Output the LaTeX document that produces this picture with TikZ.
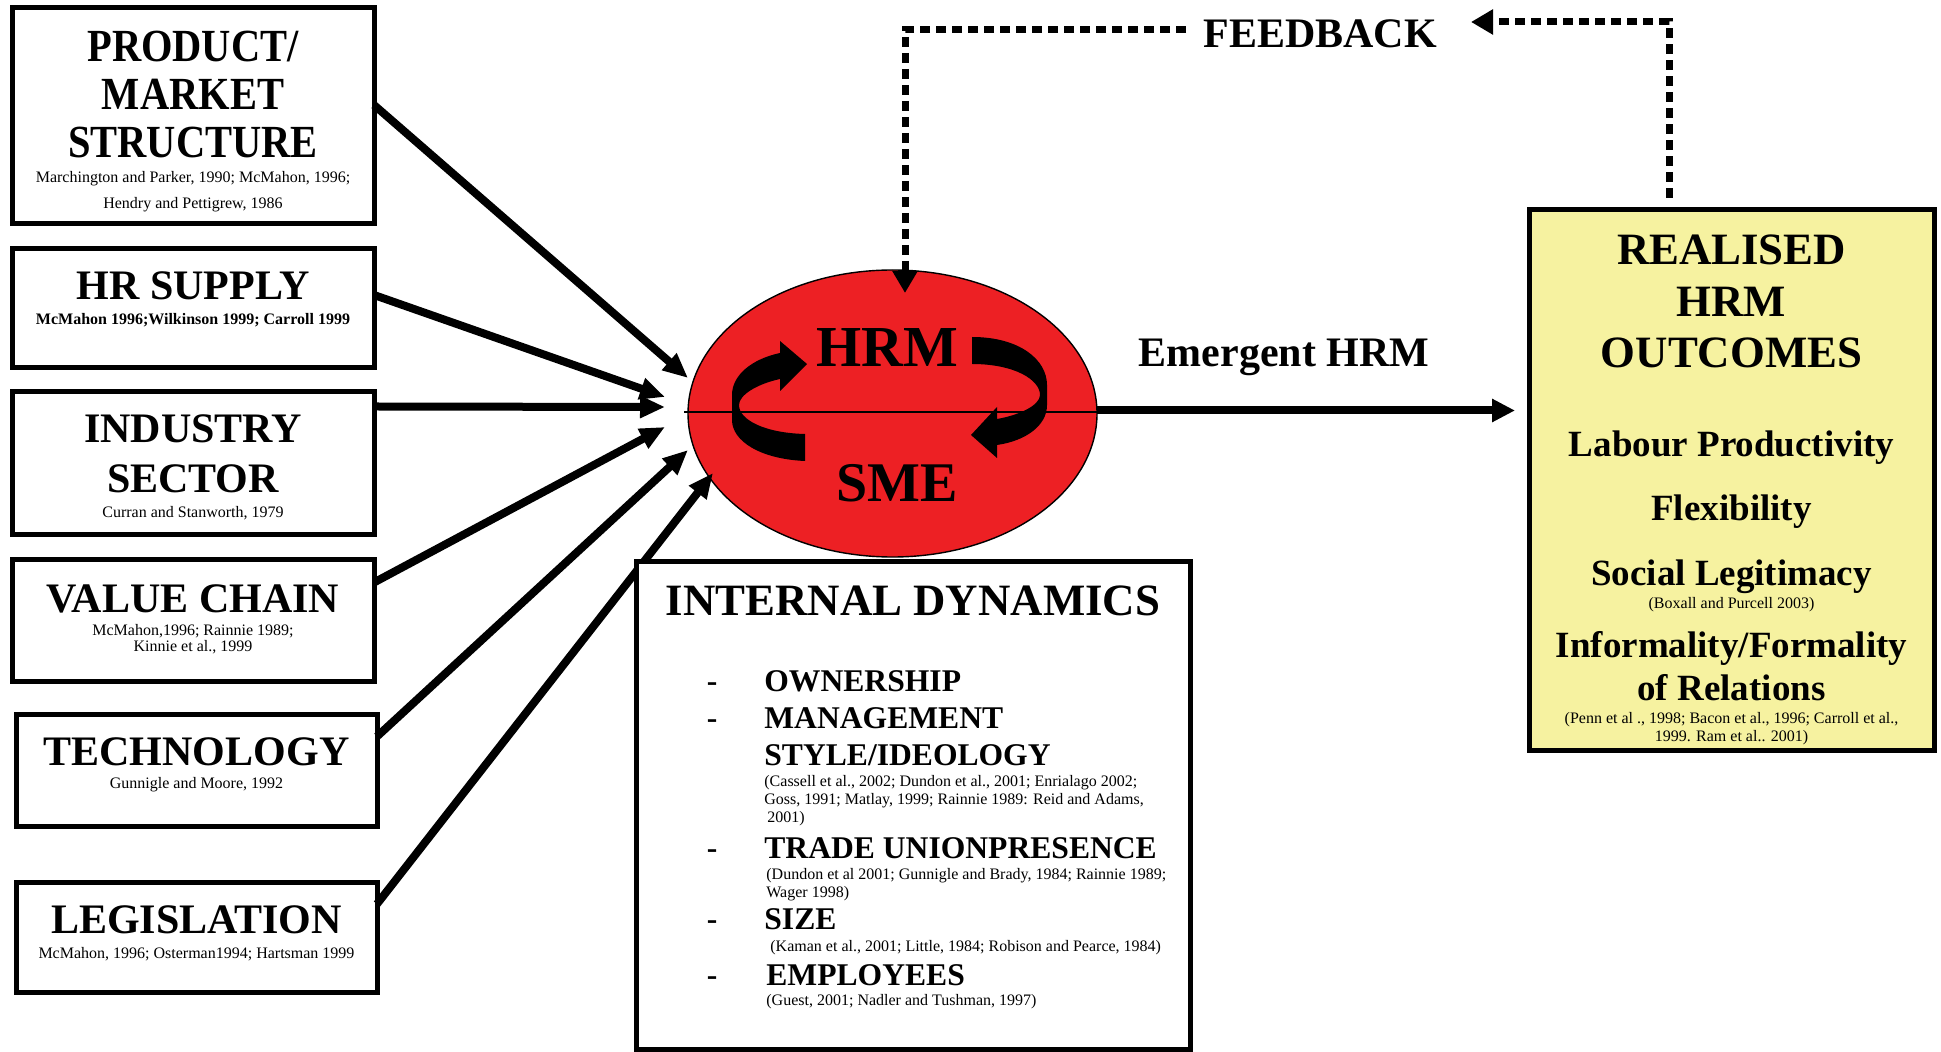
\documentclass[tikz,border=0pt]{standalone}
\usepackage{fontspec}
\setmainfont{Liberation Serif}
\newfontfamily\condserif[FakeStretch=0.88]{Liberation Serif}
\usetikzlibrary{arrows.meta,shapes.geometric,calc}
\definecolor{hrmred}{RGB}{237,32,36}
\definecolor{outyellow}{RGB}{246,242,160}
\begin{document}
\begin{tikzpicture}[x=0.5pt,y=-0.5pt,
  box/.style={draw, line width=2.5pt, rectangle, inner sep=0pt, outer sep=0pt},
  ttl/.style={inner sep=0pt, anchor=base, font=\fontsize{21pt}{24pt}\selectfont\bfseries},
  ttlp/.style={inner sep=0pt, anchor=base, font=\condserif\fontsize{23pt}{26pt}\selectfont\bfseries},
  cit/.style={inner sep=0pt, anchor=base, font=\fontsize{8pt}{10pt}\selectfont},
  citl/.style={inner sep=0pt, anchor=base west, font=\fontsize{8pt}{10pt}\selectfont},
  citb/.style={inner sep=0pt, anchor=base, font=\fontsize{8pt}{9pt}\selectfont\bfseries},
  item/.style={inner sep=0pt, anchor=base west, font=\fontsize{15.8pt}{18pt}\selectfont\bfseries},
  dashmark/.style={inner sep=0pt, anchor=base, font=\fontsize{15.8pt}{18pt}\selectfont\bfseries},
  big/.style={inner sep=0pt, anchor=base, font=\fontsize{22.4pt}{26pt}\selectfont\bfseries},
  outc/.style={inner sep=0pt, anchor=base, font=\fontsize{18.5pt}{22pt}\selectfont\bfseries},
  inarrow/.style={line width=4pt, -{Triangle[length=12.5pt,width=10.5pt]}},
  fbline/.style={line width=3.5pt, dash pattern=on 5pt off 3pt, -{Triangle[length=11pt,width=12pt]}}
]
\fill[white] (0,0) rectangle (1941,1052);
\useasboundingbox (0,0) rectangle (1941,1052);

% ---------- left boxes ----------
\node[box, minimum width=181pt, minimum height=108pt] (b1) at (193,116) {};
\node[ttlp] (b1a) at (193,62) {PRODUCT/};
\node[ttlp] (b1b) at (193,110) {MARKET};
\node[ttlp] (b1c) at (193,158) {STRUCTURE};
\node[cit] (b1d) at (193,183) {Marchington and Parker, 1990; McMahon, 1996;};
\node[cit] (b1e) at (193,209) {Hendry and Pettigrew, 1986};

\node[box, minimum width=181pt, minimum height=59.5pt] (b2) at (193,308.5) {};
\node[ttl] (b2a) at (193,300) {HR SUPPLY};
\node[citb] (b2b) at (193,325) {McMahon 1996;Wilkinson 1999; Carroll 1999};

\node[box, minimum width=181pt, minimum height=71.5pt] (b3) at (193,463.5) {};
\node[ttl] (b3a) at (193,443) {INDUSTRY};
\node[ttl] (b3b) at (193,493) {SECTOR};
\node[cit] (b3c) at (193,518) {Curran and Stanworth, 1979};

\node[box, minimum width=181pt, minimum height=60.5pt] (b4) at (193,620.5) {};
\node[ttl] (b4a) at (193,612) {VALUE CHAIN};
\node[cit] (b4b) at (193,635) {McMahon,1996; Rainnie 1989;};
\node[cit] (b4c) at (193,651) {Kinnie et al., 1999};

\node[box, minimum width=180.5pt, minimum height=56pt] (b5) at (196.5,770) {};
\node[ttl] (b5a) at (196.5,765) {TECHNOLOGY};
\node[cit] (b5b) at (196.5,788) {Gunnigle and Moore, 1992};

\node[box, minimum width=180.5pt, minimum height=55pt] (b6) at (196.5,937) {};
\node[ttl] (b6a) at (196.5,933) {LEGISLATION};
\node[cit] (b6b) at (196.5,958) {McMahon, 1996; Osterman1994; Hartsman 1999};

% ---------- central ellipse ----------
\node[ellipse, draw, line width=0.7pt, fill=hrmred, minimum width=204.5pt, minimum height=143.5pt, inner sep=0pt, outer sep=0pt] (e) at (892.5,413.5) {};
\draw[line width=0.8pt] ([xshift=-2pt,yshift=0.8pt]e.west) -- ([yshift=0.8pt]e.east);
\fill (805,461) .. controls (760,459) and (732,441) .. (732,420) -- (732,395)
  .. controls (732,375) and (752,359) .. (780,353) -- (780,341) -- (807,364) -- (780,391) -- (780,379)
  .. controls (757,384) and (739,395) .. (739,405) .. controls (739,420) and (765,433) .. (805,434) -- cycle;
\fill (972,337) .. controls (1020,337) and (1047,360) .. (1047,385) -- (1047,405)
  .. controls (1047,426) and (1025,441) .. (997,445) -- (997,458) -- (971,435) -- (997,407) -- (997,419)
  .. controls (1020,415) and (1040,405) .. (1040,395) .. controls (1040,380) and (1015,364) .. (972,364) -- cycle;
\node[inner sep=0pt, anchor=base, font=\fontsize{29pt}{32pt}\selectfont\bfseries] (hrm) at (887,367) {HRM};
\node[inner sep=0pt, anchor=base, font=\fontsize{28pt}{32pt}\selectfont\bfseries] (sme) at (897,502) {SME};

% ---------- input arrows ----------
\coordinate (t1) at (688,378);
\coordinate (t2) at (665,397);
\coordinate (t3) at (665,407);
\coordinate (t4) at (665,427);
\coordinate (t5) at (688,450);
\coordinate (t6) at (713,473);
\draw[inarrow] ([yshift=5.5pt]b1.east) -- (t1);
\draw[inarrow] ([yshift=6.75pt]b2.east) -- (t2);
\draw[inarrow] ([yshift=28.5pt,xshift=1.5pt]b3.east) -- (t3);
\draw[inarrow] ([yshift=19pt]b4.east) -- (t4);
\draw[inarrow] ([yshift=16.75pt]b5.east) -- (t5);
\draw[inarrow] ([yshift=16.5pt]b6.east) -- (t6);

% ---------- internal dynamics ----------
\node[box, fill=white, minimum width=277pt, minimum height=243.5pt] (id) at (913,805.5) {};
\node[big] (idt) at (913,615) {INTERNAL DYNAMICS};
\node[dashmark] (d1) at (712,691) {-};
\node[item] (i1) at (764,691) {OWNERSHIP};
\node[dashmark] (d2) at (712,728) {-};
\node[item] (i2) at (764,728) {MANAGEMENT};
\node[item] (i2b) at (764,765) {STYLE/IDEOLOGY};
\node[citl] (c2a) at (764,786) {(Cassell et al., 2002; Dundon et al., 2001; Enrialago 2002;};
\node[citl] (c2b) at (764,804) {Goss, 1991; Matlay, 1999; Rainnie 1989: Reid and Adams,};
\node[citl] (c2c) at (767,822) {2001)};
\node[dashmark] (d3) at (712,858) {-};
\node[item] (i3) at (764,858) {TRADE UNIONPRESENCE};
\node[citl] (c3a) at (766,879) {(Dundon et al 2001; Gunnigle and Brady, 1984; Rainnie 1989;};
\node[citl] (c3b) at (766,897) {Wager 1998)};
\node[dashmark] (d4) at (712,929) {-};
\node[item] (i4) at (764,929) {SIZE};
\node[citl] (c4a) at (770,951) {(Kaman et al., 2001; Little, 1984; Robison and Pearce, 1984)};
\node[dashmark] (d5) at (712,985) {-};
\node[item] (i5) at (766,985) {EMPLOYEES};
\node[citl] (c5a) at (766,1005) {(Guest, 2001; Nadler and Tushman, 1997)};

% ---------- realised outcomes ----------
\node[box, fill=outyellow, minimum width=202.5pt, minimum height=270pt] (R) at (1731.5,480) {};
\node[big] (r1) at (1731.5,265) {REALISED};
\node[big] (r2) at (1731.5,317) {HRM};
\node[big] (r3) at (1731.5,368) {OUTCOMES};
\node[outc] (r4) at (1731.5,457) {Labour Productivity};
\node[outc] (r5) at (1731.5,521) {Flexibility};
\node[outc] (r6) at (1731.5,585) {Social Legitimacy};
\node[cit] (r6c) at (1731.5,608) {(Boxall and Purcell 2003)};
\node[outc] (r7) at (1731.5,657) {Informality/Formality};
\node[outc] (r7b) at (1731.5,700) {of Relations};
\node[cit] (r7c) at (1731.5,723) {(Penn et al ., 1998; Bacon et al., 1996; Carroll et al.,};
\node[cit] (r7d) at (1731.5,741) {1999. Ram et al.. 2001)};
\draw[line width=2.5pt] (R.south west) -- (R.south east);

% ---------- emergent HRM ----------
\draw[line width=4pt, -{Triangle[length=11.5pt,width=11pt]}, shorten >=7pt] ([yshift=1.5pt]e.east) -- ([yshift=1.5pt]e.east -| R.west);
\node[inner sep=0pt, anchor=base, font=\fontsize{21pt}{24pt}\selectfont\bfseries] (em) at (1284,367) {Emergent HRM};

% ---------- feedback ----------
\node[inner sep=0pt, anchor=base, font=\fontsize{21pt}{24pt}\selectfont\bfseries] (fb) at (1320,48) {FEEDBACK};
\coordinate (fa) at (1186,30);
\coordinate (fb1) at (905,30);
\coordinate (ftip) at (905,293);
\draw[fbline] (fa) -- (fb1) -- (ftip);
\coordinate (fc) at (1669,198);
\coordinate (fd) at (1669,22);
\coordinate (ftip2) at (1471,22);
\draw[fbline] (fc) -- (fd) -- (ftip2);
\end{tikzpicture}
\end{document}
